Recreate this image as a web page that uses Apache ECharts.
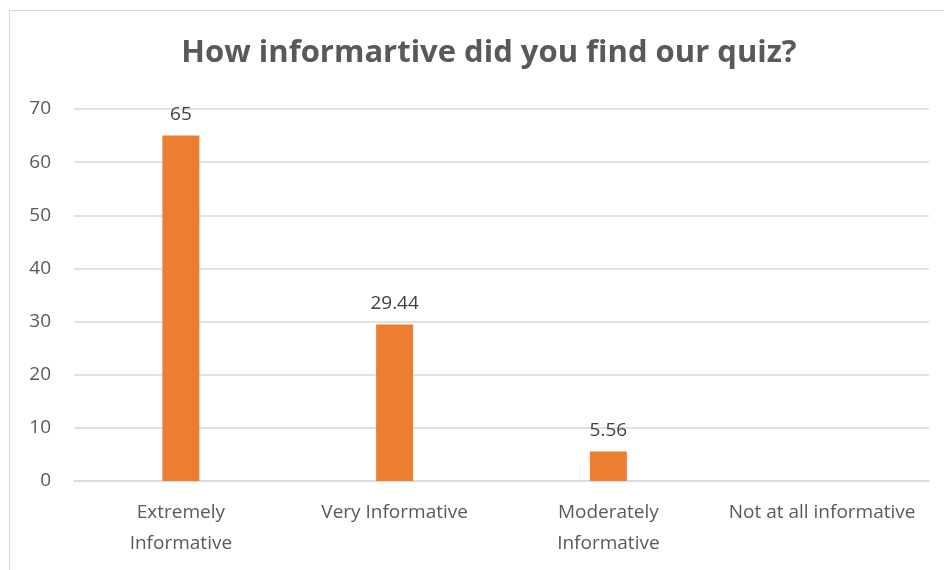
<!DOCTYPE html>
<html>
<head>
<meta charset="utf-8">
<script src="https://cdn.jsdelivr.net/npm/echarts@6/dist/echarts.min.js"></script>
<style>
html,body{margin:0;padding:0;background:#fff;}
#wrap{position:relative;width:944px;height:570px;}
#chart{position:absolute;left:0;top:0;width:944px;height:570px;}
#frame{position:absolute;left:9px;top:10px;width:940px;height:570px;border-left:1px solid #D9D9D9;border-top:1px solid #D9D9D9;pointer-events:none;}
</style>
</head>
<body>
<div id="wrap"><div id="chart"></div><div id="frame"></div></div>
<script>
const titleText = 'How informartive did you find our quiz?';
const categories = ['Extremely\nInformative', 'Very Informative', 'Moderately\nInformative', 'Not at all informative'];
const values = [65, 29.44, 5.56, null];
const yMin = 0, yMax = 70, yStep = 10;

const font = 'Open Sans';
const chart = echarts.init(document.getElementById('chart'), null, {renderer: 'canvas'});
chart.setOption({
  animation: false,
  title: {
    text: titleText,
    left: 484, top: 33, textAlign: 'center',
    textStyle: {fontFamily: font, fontSize: 31, fontWeight: 'bold', color: '#595959'}
  },
  grid: {left: 74, right: 15, top: 109, bottom: 89, containLabel: false},
  xAxis: {
    type: 'category',
    data: categories,
    axisLine: {lineStyle: {color: '#D9D9D9', width: 1.5}},
    axisTick: {show: false},
    axisLabel: {fontFamily: font, fontSize: 19, color: '#595959', lineHeight: 31, margin: 16, interval: 0}
  },
  yAxis: {
    type: 'value', min: yMin, max: yMax, interval: yStep,
    axisLine: {show: false}, axisTick: {show: false},
    splitLine: {lineStyle: {color: '#D9D9D9', width: 1.5}},
    axisLabel: {fontFamily: font, fontSize: 19, color: '#595959', margin: 23}
  },
  series: [{
    type: 'bar',
    data: values,
    barWidth: 37,
    itemStyle: {color: '#ED7D31'},
    label: {show: true, position: 'top', distance: 11, fontFamily: font, fontSize: 19, color: '#404040'}
  }]
});
</script>
</body>
</html>
